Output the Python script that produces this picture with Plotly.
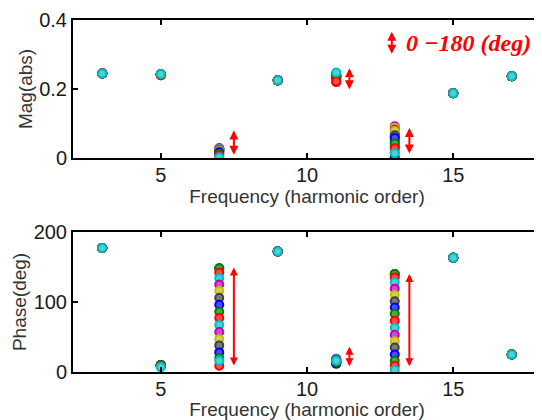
import plotly.graph_objects as go

# ---------------- data ----------------
harmonics = [3, 5, 7, 9, 11, 13, 15, 17]
series_colors = ["#0000ff", "#008000", "#ff0000", "#00bfbf", "#bf00bf", "#bfbf00", "#404040"]
n_series = 18

mag_h3 = [0.245, 0.245, 0.245, 0.245, 0.245, 0.245, 0.245, 0.245, 0.245, 0.245, 0.245, 0.245, 0.245, 0.245, 0.245, 0.245, 0.245, 0.245]
mag_h5 = [0.242, 0.242, 0.240, 0.243, 0.242, 0.243, 0.242, 0.242, 0.243, 0.240, 0.243, 0.242, 0.243, 0.242, 0.242, 0.243, 0.240, 0.243]
mag_h7 = [0.028, 0.027, 0.024, 0.021, 0.019, 0.018, 0.020, 0.023, 0.026, 0.028, 0.027, 0.024, 0.021, 0.018, 0.015, 0.011, 0.007, 0.002]
mag_h9 = [0.225, 0.225, 0.225, 0.225, 0.225, 0.225, 0.225, 0.225, 0.225, 0.225, 0.225, 0.225, 0.225, 0.225, 0.225, 0.225, 0.225, 0.225]
mag_h11 = [0.236, 0.238, 0.222, 0.245, 0.240, 0.226, 0.230, 0.232, 0.240, 0.220, 0.244, 0.242, 0.224, 0.234, 0.236, 0.238, 0.222, 0.248]
mag_h13 = [0.003, 0.045, 0.032, 0.015, 0.092, 0.088, 0.070, 0.060, 0.050, 0.036, 0.020, 0.082, 0.078, 0.066, 0.058, 0.042, 0.028, 0.014]
mag_h15 = [0.188, 0.188, 0.188, 0.188, 0.188, 0.188, 0.188, 0.188, 0.188, 0.188, 0.188, 0.188, 0.188, 0.188, 0.188, 0.188, 0.188, 0.188]
mag_h17 = [0.237, 0.237, 0.237, 0.237, 0.237, 0.237, 0.237, 0.237, 0.237, 0.237, 0.237, 0.237, 0.237, 0.237, 0.237, 0.237, 0.237, 0.237]

ph_h3 = [177, 177, 177, 177, 177, 177, 177, 177, 177, 177, 177, 177, 177, 177, 177, 177, 177, 177]
ph_h5 = [10, 10, 9, 8, 9, 10, 9, 10, 10, 9, 8, 9, 10, 9, 10, 10, 9, 7]
ph_h7 = [148, 148, 142, 134, 125, 116, 106, 96, 86, 77, 67, 57, 47, 38, 28, 20, 9, 16]
ph_h9 = [172, 172, 172, 172, 172, 172, 172, 172, 172, 172, 172, 172, 172, 172, 172, 172, 172, 172]
ph_h11 = [15, 18, 19, 16, 14, 13, 12, 13, 15, 17, 19, 18, 15, 13, 12, 14, 16, 16]
ph_h13 = [140, 140, 135, 128, 119, 110, 101, 92, 83, 73, 63, 53, 44, 35, 25, 16, 9, 3]
ph_h15 = [163, 163, 163, 163, 163, 163, 163, 163, 163, 163, 163, 163, 163, 163, 163, 163, 163, 163]
ph_h17 = [25, 25, 25, 25, 25, 25, 25, 25, 25, 25, 25, 25, 25, 25, 25, 25, 25, 25]

# range arrows (red double arrows)
mag_arrow_x = [7.5, 11.45, 13.5]
mag_arrow_lo = [0.005, 0.195, 0.009]
mag_arrow_hi = [0.080, 0.260, 0.087]
ph_arrow_x = [7.5, 11.45, 13.5]
ph_arrow_lo = [7, 6, 6]
ph_arrow_hi = [149, 36, 140]

legend_text = "0 \u2212180 (deg)"

mag_cols = [mag_h3, mag_h5, mag_h7, mag_h9, mag_h11, mag_h13, mag_h15, mag_h17]
ph_cols = [ph_h3, ph_h5, ph_h7, ph_h9, ph_h11, ph_h13, ph_h15, ph_h17]


def lighten(hex_color, f):
    r = int(hex_color[1:3], 16)
    g = int(hex_color[3:5], 16)
    b = int(hex_color[5:7], 16)
    r = int(r + (255 - r) * f)
    g = int(g + (255 - g) * f)
    b = int(b + (255 - b) * f)
    return f"rgb({r},{g},{b})"


fig = go.Figure()
for k in range(n_series):
    c = series_colors[k % len(series_colors)]
    mk = dict(size=8, color=lighten(c, 0.3), line=dict(color=c, width=2), symbol="circle")
    fig.add_trace(go.Scatter(x=harmonics, y=[col[k] for col in mag_cols], mode="markers",
                             marker=mk, showlegend=False, xaxis="x", yaxis="y"))
    fig.add_trace(go.Scatter(x=harmonics, y=[col[k] for col in ph_cols], mode="markers",
                             marker=mk, showlegend=False, xaxis="x2", yaxis="y2"))

annotations = []


def add_arrow(x, y0, y1, xr, yr, size=0.9):
    annotations.append(dict(x=x, y=y1, ax=x, ay=y0, xref=xr, yref=yr, axref=xr, ayref=yr,
                            text="", showarrow=True, arrowhead=2, arrowside="end+start",
                            arrowsize=size, arrowwidth=2, arrowcolor="#ff0000",
                            standoff=0, startstandoff=0))


for x, lo, hi in zip(mag_arrow_x, mag_arrow_lo, mag_arrow_hi):
    add_arrow(x, lo, hi, "x", "y")
for x, lo, hi in zip(ph_arrow_x, ph_arrow_lo, ph_arrow_hi):
    add_arrow(x, lo, hi, "x2", "y2", size=0.8)

# legend-like label
add_arrow(12.9, 0.298, 0.366, "x", "y")
annotations.append(dict(x=13.3, y=0.333, xref="x", yref="y", xanchor="left", yanchor="middle",
                        text="<b><i>" + legend_text + "</i></b>", showarrow=False,
                        font=dict(family="Liberation Serif", size=24, color="#ff0000")))

tickfont = dict(family="Liberation Sans", size=20, color="#1a1a1a")
titlefont = dict(family="Liberation Sans", size=19, color="#333333")

axis_common = dict(showgrid=False, zeroline=False, showline=True, linecolor="#000000", linewidth=2,
                   mirror="ticks", ticks="inside", ticklen=5, tickwidth=1.5, tickcolor="#000000",
                   tickfont=tickfont, automargin=False)

# the page body adds an 8px offset, so the figure is sized to fit the 542x420 window
fig.update_layout(
    width=534, height=412,
    margin=dict(l=65, r=1, t=12, b=48, autoexpand=False),
    plot_bgcolor="white", paper_bgcolor="white",
    showlegend=False,
    xaxis=dict(domain=[0, 1], range=[2, 18], tickvals=[5, 10, 15], anchor="y", ticklabelstandoff=-2,
               title=dict(text="Frequency (harmonic order)", font=titlefont, standoff=2), **axis_common),
    yaxis=dict(domain=[0.608, 1], range=[0, 0.4], tickvals=[0, 0.2, 0.4], ticktext=["0", "0.2", "0.4"],
               anchor="x", title=dict(text="Mag(abs)", font=titlefont, standoff=2), **axis_common),
    xaxis2=dict(domain=[0, 1], range=[2, 18], tickvals=[5, 10, 15], anchor="y2", ticklabelstandoff=-2,
                title=dict(text="Frequency (harmonic order)", font=titlefont, standoff=2), **axis_common),
    yaxis2=dict(domain=[0, 0.398], range=[0, 200], tickvals=[0, 100, 200], anchor="x2",
                title=dict(text="Phase(deg)", font=titlefont, standoff=2), **axis_common),
    annotations=annotations,
)

fig.write_html("out.html")
